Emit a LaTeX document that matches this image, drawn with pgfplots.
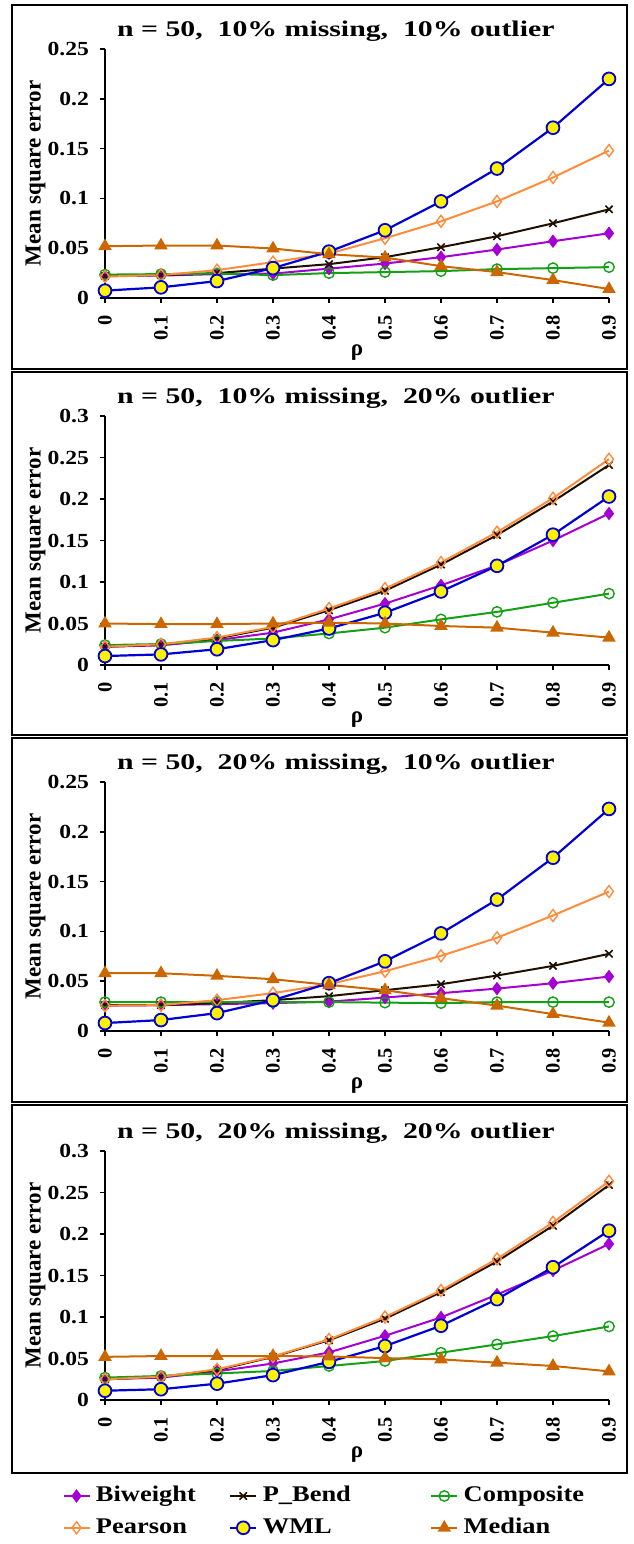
\documentclass[border=0pt]{standalone}
\usepackage{pgfplots}
\pgfplotsset{compat=1.18}
\usepackage{pgfplotstable}
\usepackage{fontspec}
\setmainfont{Liberation Serif}
\newfontfamily\TitleF{Liberation Serif}[FakeStretch=1.33]
\newfontfamily\TickF{Liberation Serif}[FakeStretch=1.18]

\definecolor{cbw}{RGB}{165,0,210}
\definecolor{cpb}{RGB}{30,15,0}
\definecolor{cco}{RGB}{20,160,20}
\definecolor{cpe}{RGB}{255,140,60}
\definecolor{cwml}{RGB}{0,0,210}
\definecolor{cme}{RGB}{204,102,0}

\pgfplotstableread{
x   bw     pb     co     pe     wml    me
0   0.022  0.022  0.0235 0.0215 0.0074 0.052
0.1 0.0225 0.023  0.024  0.023  0.0107 0.0527
0.2 0.024  0.025  0.0245 0.028  0.017  0.0527
0.3 0.0245 0.0295 0.023  0.036  0.030  0.0497
0.4 0.0295 0.034  0.025  0.0446 0.0466 0.044
0.5 0.0346 0.041  0.026  0.060  0.068  0.0406
0.6 0.041  0.051  0.027  0.077  0.097  0.032
0.7 0.0487 0.062  0.029  0.097  0.130  0.026
0.8 0.057  0.075  0.030  0.121  0.171  0.018
0.9 0.065  0.089  0.031  0.148  0.220  0.009
}\Pone

\pgfplotstableread{
x   bw     pb     co     pe     wml    me
0   0.022  0.022  0.024  0.022  0.0108 0.050
0.1 0.0237 0.0245 0.0253 0.025  0.0128 0.0493
0.2 0.030  0.032  0.029  0.033  0.019  0.0493
0.3 0.039  0.045  0.032  0.046  0.030  0.050
0.4 0.055  0.066  0.038  0.068  0.044  0.051
0.5 0.074  0.0895 0.045  0.092  0.063  0.050
0.6 0.096  0.121  0.055  0.1235 0.0886 0.047
0.7 0.120  0.1565 0.064  0.160  0.1195 0.045
0.8 0.150  0.197  0.075  0.201  0.157  0.039
0.9 0.1825 0.241  0.086  0.248  0.203  0.033
}\Ptwo

\pgfplotstableread{
x   bw     pb     co     pe     wml    me
0   0.0255 0.026  0.029  0.0255 0.008  0.058
0.1 0.026  0.026  0.029  0.026  0.011  0.058
0.2 0.027  0.028  0.029  0.031  0.018  0.0554
0.3 0.028  0.031  0.029  0.038  0.031  0.052
0.4 0.0295 0.035  0.029  0.047  0.048  0.0463
0.5 0.0336 0.041  0.0285 0.060  0.070  0.041
0.6 0.038  0.047  0.028  0.0755 0.098  0.033
0.7 0.0426 0.0557 0.029  0.0936 0.132  0.0255
0.8 0.048  0.0654 0.029  0.116  0.174  0.017
0.9 0.0547 0.0775 0.029  0.140  0.223  0.0084
}\Pthree

\pgfplotstableread{
x   bw     pb     co     pe     wml    me
0   0.025  0.025  0.027  0.025  0.0112 0.052
0.1 0.027  0.028  0.029  0.028  0.013  0.053
0.2 0.0345 0.036  0.032  0.037  0.0197 0.053
0.3 0.044  0.052  0.035  0.0525 0.030  0.053
0.4 0.0574 0.072  0.041  0.073  0.046  0.0525
0.5 0.0774 0.098  0.047  0.100  0.065  0.0505
0.6 0.0995 0.130  0.057  0.132  0.0895 0.049
0.7 0.127  0.167  0.067  0.170  0.1215 0.045
0.8 0.156  0.210  0.077  0.214  0.160  0.041
0.9 0.188  0.259  0.0886 0.2635 0.204  0.0345
}\Pfour

\pgfplotsset{
  panel/.style={
    scale only axis, width=252pt, height=124.5pt, anchor=south west,
    xmin=0, xmax=0.9, ymin=0, clip=false,
    axis lines=left, axis line style={-, line width=1pt, black},
    tick align=outside, major tick length=2.5pt,
    tick style={line width=0.75pt, black},
    xtick={0,0.1,0.2,0.3,0.4,0.5,0.6,0.7,0.8,0.9},
    xticklabels={0,0.1,0.2,0.3,0.4,0.5,0.6,0.7,0.8,0.9},
    xticklabel style={rotate=90, anchor=east, font=\fontsize{10.2}{12}\selectfont\bfseries},
    xticklabel shift=2.5pt,
    yticklabel style={font=\TickF\fontsize{10}{12}\selectfont\bfseries},
    yticklabel shift=2pt,
    xlabel={ρ},
    xlabel style={at={(axis description cs:0.5,-0.22)}, anchor=center, font=\fontsize{11.5}{13}\selectfont\bfseries},
    ylabel={Mean square error},
    ylabel style={at={(axis description cs:-0.138,0.5)}, anchor=center, font=\fontsize{11.5}{13}\selectfont\bfseries},
    title style={at={(axis description cs:0.458,1)}, anchor=base, yshift=0.4pt, font=\TitleF\fontsize{11.2}{13}\selectfont\bfseries},
  },
  y25/.style={ymax=0.25, ytick={0,0.05,0.1,0.15,0.2,0.25}, yticklabels={0,0.05,0.1,0.15,0.2,0.25}},
  y30/.style={ymax=0.3, ytick={0,0.05,0.1,0.15,0.2,0.25,0.3}, yticklabels={0,0.05,0.1,0.15,0.2,0.25,0.3}},
  bw/.style={color=cbw, line width=1pt, mark=diamond*, mark size=3pt, mark options={solid, line width=0.5pt}},
  pb/.style={color=cpb, line width=1pt, mark=x, mark size=2.6pt, mark options={solid, line width=0.8pt}},
  co/.style={color=cco, line width=1pt, mark=o, mark size=2.6pt, mark options={solid, fill=white, line width=0.7pt}},
  pe/.style={color=cpe, line width=1pt, mark=diamond, mark size=3pt, mark options={solid, fill=white, line width=0.7pt}},
  wml/.style={color=cwml, line width=1.1pt, mark=*, mark size=3.2pt, mark options={solid, fill=yellow, draw=cwml, line width=0.9pt}},
  me/.style={color=cme, line width=1pt, mark=triangle*, mark size=2.9pt, mark options={solid}},
}

\begin{document}
\begin{tikzpicture}
\path[use as bounding box] (0,0) rectangle (316.5pt,-772pt);
\draw[line width=1.2pt] (6pt,-2.5pt) rectangle (313.5pt,-184.5pt);
\draw[line width=1.2pt] (6pt,-186pt) rectangle (313.5pt,-367.5pt);
\draw[line width=1.2pt] (6pt,-369pt) rectangle (313.5pt,-551pt);
\draw[line width=1.2pt] (6pt,-552.5pt) rectangle (313.5pt,-736.5pt);

\begin{axis}[panel, y25, at={(52.5pt,-149pt)}, title={n = 50,\ \ 10\% missing,\ \ 10\% outlier}]
\addplot[bw] table[x=x,y=bw]{\Pone};
\addplot[pb] table[x=x,y=pb]{\Pone};
\addplot[co] table[x=x,y=co]{\Pone};
\addplot[pe] table[x=x,y=pe]{\Pone};
\addplot[wml] table[x=x,y=wml]{\Pone};
\addplot[me] table[x=x,y=me]{\Pone};
\end{axis}

\begin{axis}[panel, y30, at={(52.5pt,-332.5pt)}, title={n = 50,\ \ 10\% missing,\ \ 20\% outlier}]
\addplot[bw] table[x=x,y=bw]{\Ptwo};
\addplot[pb] table[x=x,y=pb]{\Ptwo};
\addplot[co] table[x=x,y=co]{\Ptwo};
\addplot[pe] table[x=x,y=pe]{\Ptwo};
\addplot[wml] table[x=x,y=wml]{\Ptwo};
\addplot[me] table[x=x,y=me]{\Ptwo};
\end{axis}

\begin{axis}[panel, y25, at={(52.5pt,-515.5pt)}, title={n = 50,\ \ 20\% missing,\ \ 10\% outlier}]
\addplot[bw] table[x=x,y=bw]{\Pthree};
\addplot[pb] table[x=x,y=pb]{\Pthree};
\addplot[co] table[x=x,y=co]{\Pthree};
\addplot[pe] table[x=x,y=pe]{\Pthree};
\addplot[wml] table[x=x,y=wml]{\Pthree};
\addplot[me] table[x=x,y=me]{\Pthree};
\end{axis}

\begin{axis}[panel, y30, at={(52.5pt,-700pt)}, title={n = 50,\ \ 20\% missing,\ \ 20\% outlier},
  legend columns=3, legend cell align=left,
  legend image code/.code={\draw[mark repeat=2,mark phase=2] plot coordinates {(0pt,0pt) (6.5pt,0pt) (13pt,0pt)};},
  legend style={at={(axis description cs:-0.085,-0.32)}, anchor=north west, draw=none, fill=none, inner sep=0pt,
    font=\TickF\fontsize{11.2}{13}\selectfont\bfseries,
    nodes={text height=8pt, text depth=2.5pt, inner sep=2.7pt},
    /tikz/column 2/.style={column sep=14pt},
    /tikz/column 4/.style={column sep=37pt},
    row sep=0pt}]
\addplot[bw] table[x=x,y=bw]{\Pfour};
\addplot[pb] table[x=x,y=pb]{\Pfour};
\addplot[co] table[x=x,y=co]{\Pfour};
\addplot[pe] table[x=x,y=pe]{\Pfour};
\addplot[wml] table[x=x,y=wml]{\Pfour};
\addplot[me] table[x=x,y=me]{\Pfour};
\legend{Biweight,P\_Bend,Composite,Pearson,WML,Median}
\end{axis}
\end{tikzpicture}
\end{document}
